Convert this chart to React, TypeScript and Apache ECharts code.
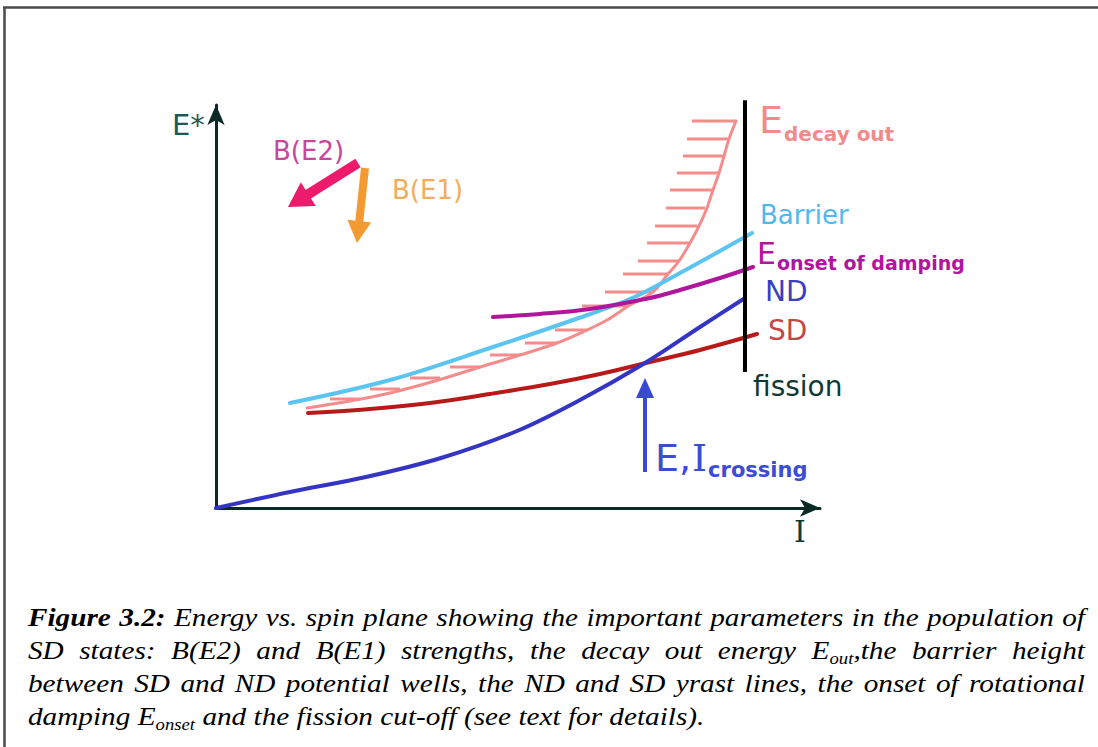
import React, { useEffect, useRef } from "react";
import * as echarts from "echarts";

// ---- Data (spin I on x, excitation energy E* on y, arbitrary units 0..100) ----
const ndYrast = [[0, 0], [12.25, 3.97], [24.83, 7.69], [37.25, 12.41], [49.83, 19.11], [60.26, 26.8], [71.03, 35.98], [80.13, 44.91], [87.58, 52.11]];
const sdYrast = [[15.23, 23.57], [25.5, 24.57], [35.43, 26.05], [45.36, 28.29], [55.3, 30.77], [63.58, 33.25], [71.85, 36.23], [80.13, 39.21], [89.57, 43.18]];
const barrier = [[12.25, 26.05], [28.81, 31.76], [45.36, 39.7], [59.11, 46.65], [68.54, 51.86], [76.82, 58.31], [88.74, 68.24]];
const onsetDamping = [[45.86, 47.39], [53.64, 48.14], [61.92, 49.38], [71.85, 52.11], [76.82, 54.09], [83.44, 57.07], [88.91, 59.8]];
const decayOut = [[15.07, 24.81], [22.19, 26.55], [28.81, 28.54], [36.26, 31.51], [43.21, 34.74], [49.83, 37.72], [56.46, 40.94], [61.09, 43.92], [64.74, 46.65], [68.54, 50.37], [72.35, 53.6], [74.83, 58.06], [76.66, 61.29], [78.48, 65.76], [79.97, 69.98], [81.29, 74.44], [82.28, 78.91], [83.28, 83.13], [84.11, 87.34], [84.93, 91.56], [86.09, 96.03]];
// hatching of the decay-out region: [I left, I right, E]
const decayHatch = [[78.81, 86.09, 96.03], [77.98, 84.93, 91.56], [77.32, 84.11, 87.34], [76.32, 83.28, 83.13], [75.17, 82.28, 78.91], [74.5, 80.96, 74.44], [72.68, 79.64, 69.98], [71.36, 78.48, 65.76], [69.87, 76.66, 61.29], [67.38, 74.83, 58.06], [64.4, 72.35, 53.6], [60.6, 68.21, 50.12], [56.13, 61.42, 44.17], [51.16, 56.46, 40.94], [45.36, 50.33, 37.97], [38.74, 43.71, 34.99], [32.12, 37.09, 32.26], [25.5, 30.46, 29.53], [18.87, 23.84, 27.05]];
const fissionLine = [[87.58, 101.2], [87.58, 33.75]];
// arrows: [I tail, E tail, I tip, E tip]
const arrowsData = [[23.51, 85.61, 11.92, 74.69], [24.67, 84.37, 23.34, 65.76], [71.03, 8.93, 71.03, 32.26]];

const CAPTION_LINES = [
  "*Figure* *3.2:* Energy vs. spin plane showing the important parameters in the population of",
  "SD states: B(E2) and B(E1) strengths, the decay out energy E_{out},the barrier height",
  "between SD and ND potential wells, the ND and SD yrast lines, the onset of rotational",
  "damping E_{onset} and the fission cut-off (see text for details).",
];

// ---- Styles / layout ----
const SANS = '"DejaVu Sans", sans-serif';
const SERIF = '"DejaVu Serif", serif';
const ARROW_STYLES = [
  { color: "#ee1a6c", shaft: 10, head: 24, w: 28 },
  { color: "#f49a33", shaft: 8, head: 22, w: 24 },
  { color: "#3a48d6", shaft: 4, head: 20, w: 18 },
];
// x: null -> continue right after the previous label
const LABELS: any[] = [
  { text: "E*", x: 172, y: 125, size: 29, color: "#1c5a52" },
  { text: "B(E2)", x: 273, y: 151, size: 26, color: "#c8469b" },
  { text: "B(E1)", x: 392, y: 190, size: 26, color: "#f2ad5e" },
  { text: "E", x: 759, y: 120, size: 38, color: "#f28a8a" },
  { text: "decay out", x: null, y: 134, size: 20, color: "#f28a8a", bold: true },
  { text: "Barrier", x: 760, y: 215, size: 26, color: "#4fb8ec" },
  { text: "E", x: 757, y: 253, size: 30, color: "#b3139e" },
  { text: "onset of damping", x: null, y: 263, size: 19, color: "#b3139e", bold: true },
  { text: "ND", x: 765, y: 291, size: 28, color: "#3a3ec4" },
  { text: "SD", x: 768, y: 330, size: 28, color: "#c24848" },
  { text: "fission", x: 753, y: 386, size: 28, color: "#0f3a33" },
  { text: "E,", x: 655, y: 458, size: 38, color: "#3a4ed4" },
  { text: "I", x: null, y: 458, size: 38, color: "#3a4ed4", serif: true },
  { text: "crossing", x: null, y: 470, size: 21, color: "#3a4ed4", bold: true },
  { text: "I", x: 794, y: 531, size: 30, color: "#0f3a33", serif: true },
];

type Seg = [string, "b" | "i" | "s"];
function parseWord(w: string): Seg[] {
  const m = /^\*(.*)\*$/.exec(w);
  if (m) return [[m[1], "b"]];
  const parts = w.split(/(_\{[^}]*\})/).filter((p) => p.length > 0);
  return parts.map((p) => (p.startsWith("_{") ? [p.slice(2, -1), "s"] : [p, "i"])) as Seg[];
}

const measureCtx = document.createElement("canvas").getContext("2d")!;
function textWidth(t: string, font: string) {
  measureCtx.font = font;
  return measureCtx.measureText(t).width;
}

function buildCaption(): any[] {
  const size = 25;
  const subSize = 16;
  const sx = 1.17;
  const left = 28;
  const right = 1085;
  const baselines = [625, 658, 691, 724];
  const fontOf = (k: string) => `italic ${k === "b" ? "bold " : ""}${k === "s" ? subSize : size}px "Liberation Serif"`;
  const measure = (t: string, k: string) => textWidth(t, fontOf(k)) * sx;
  const els: any[] = [];
  CAPTION_LINES.forEach((line, li) => {
    const words = line.split(" ").map(parseWord);
    const widths = words.map((segs) => segs.reduce((s, [t, k]) => s + measure(t, k), 0));
    const total = widths.reduce((a, b) => a + b, 0);
    const justify = li < CAPTION_LINES.length - 1;
    const gap = justify ? Math.max(3, (right - left - total) / (words.length - 1)) : measure(" ", "i");
    let x = left;
    words.forEach((segs) => {
      segs.forEach(([t, k]) => {
        const fs = k === "s" ? subSize : size;
        const base = baselines[li] + (k === "s" ? 5 : 0);
        els.push({
          type: "text",
          x,
          y: base - fs * 0.3,
          scaleX: sx,
          style: {
            text: t,
            fill: "#000",
            fontFamily: '"Liberation Serif", serif',
            fontStyle: "italic",
            fontWeight: k === "b" ? "bold" : "normal",
            fontSize: fs,
            align: "left",
            verticalAlign: "middle",
          },
        });
        x += measure(t, k);
      });
      x += gap;
    });
  });
  return els;
}

function buildLabels(): any[] {
  let cursor = 0;
  return LABELS.map((l) => {
    const family = l.serif ? SERIF : SANS;
    const weight = l.bold ? "bold" : "normal";
    const x = l.x == null ? cursor + 1 : l.x;
    cursor = x + textWidth(l.text, `${weight} ${l.size}px ${family}`);
    return {
      type: "text",
      x,
      y: l.y,
      style: {
        text: l.text,
        fill: l.color,
        fontFamily: family,
        fontWeight: weight,
        fontSize: l.size,
        align: "left",
        verticalAlign: "middle",
      },
    };
  });
}

function buildOption(): any {
  const curve = (name: string, data: number[][], color: string, width: number, z: number) => ({
    name,
    type: "line",
    data,
    smooth: 0.35,
    symbol: "none",
    clip: false,
    z,
    lineStyle: { color, width, cap: "round" },
  });
  const frame = [
    { type: "line", shape: { x1: 3, y1: 7.5, x2: 1098, y2: 7.5 }, style: { stroke: "#4a4a4a", lineWidth: 2.5 } },
    { type: "line", shape: { x1: 4.5, y1: 7, x2: 4.5, y2: 747 }, style: { stroke: "#4a4a4a", lineWidth: 2.5 } },
  ];
  const axisCommon = {
    type: "value",
    min: 0,
    max: 100,
    axisLine: { show: true, symbol: ["none", "arrow"], symbolSize: [13, 20], lineStyle: { color: "#0b2a25", width: 3 } },
    axisTick: { show: false },
    axisLabel: { show: false },
    splitLine: { show: false },
  };
  return {
    animation: false,
    backgroundColor: "#ffffff",
    grid: { left: 216, top: 105, width: 604, height: 403 },
    xAxis: { ...axisCommon },
    yAxis: { ...axisCommon },
    graphic: [...frame, ...buildLabels(), ...buildCaption()],
    series: [
      curve("Decay out", decayOut, "#f48c8c", 3, 2),
      {
        name: "Decay-out hatch",
        type: "custom",
        coordinateSystem: "cartesian2d",
        data: decayHatch,
        encode: { x: [0, 1], y: 2 },
        z: 2,
        renderItem: (_p: any, api: any) => {
          const a = api.coord([api.value(0), api.value(2)]);
          const b = api.coord([api.value(1), api.value(2)]);
          return { type: "line", shape: { x1: a[0], y1: a[1], x2: b[0], y2: b[1] }, style: { stroke: "#f48c8c", lineWidth: 3 } };
        },
      },
      curve("Barrier", barrier, "#5cc4f0", 4, 3),
      curve("SD", sdYrast, "#b81a1a", 4, 3),
      curve("ND", ndYrast, "#3535c4", 4, 4),
      curve("Onset of damping", onsetDamping, "#b0159c", 4, 4),
      {
        name: "Fission",
        type: "line",
        data: fissionLine,
        symbol: "none",
        clip: false,
        z: 6,
        lineStyle: { color: "#000", width: 4 },
      },
      {
        name: "Arrows",
        type: "custom",
        coordinateSystem: "cartesian2d",
        data: arrowsData,
        encode: { x: [0, 2], y: [1, 3] },
        z: 5,
        renderItem: (params: any, api: any) => {
          const p0 = api.coord([api.value(0), api.value(1)]);
          const p1 = api.coord([api.value(2), api.value(3)]);
          const s = ARROW_STYLES[params.dataIndex];
          const dx = p1[0] - p0[0];
          const dy = p1[1] - p0[1];
          const L = Math.hypot(dx, dy);
          const ux = dx / L;
          const uy = dy / L;
          const nx = -uy;
          const ny = ux;
          const bx = p1[0] - ux * s.head;
          const by = p1[1] - uy * s.head;
          return {
            type: "group",
            children: [
              { type: "line", shape: { x1: p0[0], y1: p0[1], x2: bx + ux * 2, y2: by + uy * 2 }, style: { stroke: s.color, lineWidth: s.shaft } },
              {
                type: "polygon",
                shape: { points: [[p1[0], p1[1]], [bx + (nx * s.w) / 2, by + (ny * s.w) / 2], [bx - (nx * s.w) / 2, by - (ny * s.w) / 2]] },
                style: { fill: s.color },
              },
            ],
          };
        },
      },
    ],
  };
}

export default function App() {
  const ref = useRef<HTMLDivElement>(null);
  useEffect(() => {
    const chart = echarts.init(ref.current!, null, { renderer: "svg" });
    chart.setOption(buildOption());
    return () => chart.dispose();
  }, []);
  return (
    <div
      ref={ref}
      style={{ position: "fixed", left: 0, top: 0, width: 1098, height: 747, background: "#fff" }}
    />
  );
}
